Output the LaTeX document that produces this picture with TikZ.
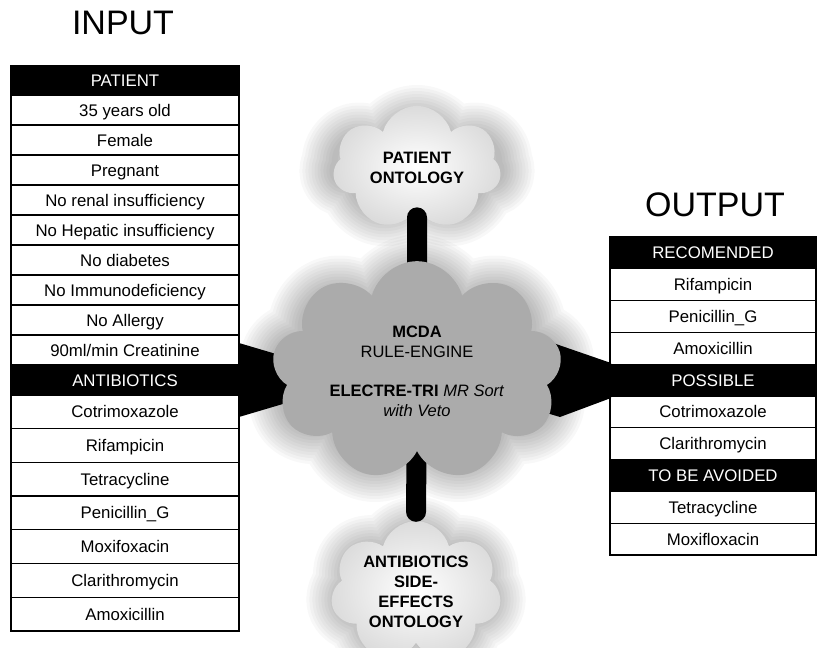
\documentclass[tikz,border=0pt]{standalone}
\usepackage{fontspec}
\setmainfont{Liberation Sans}
\usetikzlibrary{shapes.symbols,positioning}

\tikzset{
  cell/.style={draw=black, line width=1.3pt, minimum width=228pt, inner sep=0pt,
    text height=12pt, text depth=0pt, font=\fontsize{16.8}{20}\selectfont},
  hdr/.style={cell, fill=black, text=white},
  cellR/.style={cell, minimum width=206pt},
  hdrR/.style={hdr, minimum width=206pt},
  title/.style={font=\fontsize{34}{34}\selectfont, inner sep=0pt},
  puff/.style={cloud, cloud puffs=#1, aspect=1.5, inner sep=0pt, align=center,
    font=\fontsize{16.5}{20}\selectfont},
  glow/.style={draw=black, draw opacity=0.026, line join=round, line width=#1},
  bar/.style={line width=20pt, line cap=round, black}
}

\begin{document}
\begin{tikzpicture}[x=1pt,y=-1pt]
\useasboundingbox (0,0) rectangle (817,648);

% soft halo round the clouds
\foreach \g in {6,12,...,66} {
  \node[puff=9, glow=\g pt, minimum width=290pt, minimum height=207pt] (glowM\g) at (417,371) {};
  \node[puff=7, glow=\g pt, minimum width=168pt, minimum height=100pt] (glowT\g) at (417,168) {};
  \node[puff=7, glow=\g pt, minimum width=155pt, minimum height=125pt] (glowB\g) at (416,592) {};
}

% ontologies
\node[puff=7, shade, inner color=white, outer color=black!14, minimum width=168pt, minimum height=100pt] (topc) at (417,168)
  {\textbf{PATIENT}\\\textbf{ONTOLOGY}};
\node[puff=7, shade, inner color=white, outer color=black!14, minimum width=155pt, minimum height=125pt] (botc) at (416,592)
  {\textbf{ANTIBIOTICS}\\\textbf{SIDE-}\\\textbf{EFFECTS}\\\textbf{ONTOLOGY}};

\coordinate (mcdaC) at (417,371);
\draw[bar, shorten <=9pt] (topc.south) -- (mcdaC);
\draw[bar, shorten <=9pt] (botc.north) -- (mcdaC);

% funnels in and out
\fill[black] (239,343) -- (330,370) -- (330,390) -- (239,417) -- cycle;
\fill[black] (520,352) -- (553,343) -- (611,363) -- (611,398) -- (560,417) -- (520,405) -- cycle;

% rule engine
\node[puff=9, fill=black!33, minimum width=290pt, minimum height=207pt] (mcda) at (mcdaC)
  {\textbf{MCDA}\\RULE-ENGINE\\[19pt]\textbf{ELECTRE-TRI} \textit{MR Sort}\\\textit{with Veto}};

% input table
\node[title] (input) at (123,23) {INPUT};
\node[hdr, minimum height=29pt] (patient) at (125,80.5) {PATIENT};
\foreach \t [count=\i] in {35 years old, Female, Pregnant, No renal insufficiency,
    No Hepatic insufficiency, No diabetes, No Immunodeficiency, No Allergy, 90ml/min Creatinine}
  \node[cell, minimum height=30pt] (pat\i) at (125,{80+30*\i}) {\t};
\node[hdr, minimum height=30pt] (antibio) at (125,380) {ANTIBIOTICS};
\foreach \t [count=\i] in {Cotrimoxazole, Rifampicin, Tetracycline, Penicillin\_G,
    Moxifoxacin, Clarithromycin, Amoxicillin}
  \node[cell, minimum height=33.7pt] (ab\i) at (125,{378.15+33.7*\i}) {\t};

% output table
\node[title] (output) at (715,205) {OUTPUT};
\node[hdrR, minimum height=31.8pt] (recom) at (713,252.9) {RECOMENDED};
\foreach \t [count=\i] in {Rifampicin, Penicillin\_G, Amoxicillin}
  \node[cellR, minimum height=31.8pt] (rec\i) at (713,{252.9+31.8*\i}) {\t};
\node[hdrR, minimum height=31.8pt] (possible) at (713,380.1) {POSSIBLE};
\foreach \t [count=\i] in {Cotrimoxazole, Clarithromycin}
  \node[cellR, minimum height=31.8pt] (pos\i) at (713,{380.1+31.8*\i}) {\t};
\node[hdrR, minimum height=31.8pt] (avoid) at (713,475.5) {TO BE AVOIDED};
\foreach \t [count=\i] in {Tetracycline, Moxifloxacin}
  \node[cellR, minimum height=31.8pt] (avo\i) at (713,{475.5+31.8*\i}) {\t};

\end{tikzpicture}
\end{document}
